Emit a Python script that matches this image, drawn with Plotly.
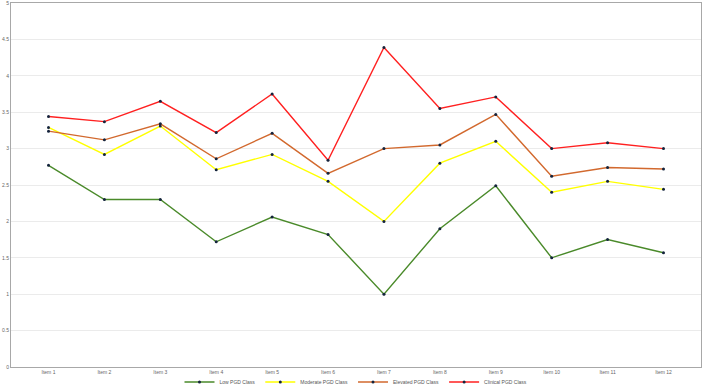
import plotly.graph_objects as go

categories = [f"Item {i}" for i in range(1, 13)]
low = [2.77, 2.30, 2.30, 1.72, 2.06, 1.82, 1.00, 1.90, 2.49, 1.50, 1.75, 1.57]
moderate = [3.29, 2.92, 3.31, 2.71, 2.92, 2.55, 2.00, 2.80, 3.10, 2.40, 2.55, 2.44]
elevated = [3.24, 3.12, 3.34, 2.86, 3.21, 2.66, 3.00, 3.05, 3.47, 2.62, 2.74, 2.72]
clinical = [3.44, 3.37, 3.65, 3.22, 3.75, 2.84, 4.39, 3.55, 3.71, 3.00, 3.08, 3.00]
y_ticks = [0, 0.5, 1, 1.5, 2, 2.5, 3, 3.5, 4, 4.5, 5]

series = [
    ("Low PGD Class", low, "#4a8a2a"),
    ("Moderate PGD Class", moderate, "#ffff00"),
    ("Elevated PGD Class", elevated, "#d2692e"),
    ("Clinical PGD Class", clinical, "#ff2020"),
]

fig = go.Figure()
for name, vals, color in series:
    fig.add_trace(go.Scatter(
        x=categories, y=vals, name=name, mode="lines+markers",
        line=dict(color=color, width=1.4),
        marker=dict(color="#14233c", size=3),
    ))

fig.update_layout(
    width=704, height=386,
    margin=dict(l=11, r=3, t=3, b=19, autoexpand=False),
    paper_bgcolor="white", plot_bgcolor="white",
    font=dict(family="Liberation Sans, Arial, sans-serif", size=5, color="#666"),
    showlegend=True,
    legend=dict(orientation="h", x=0.5, xanchor="center",
                yref="container", y=4 / 386, yanchor="middle",
                bgcolor="rgba(0,0,0,0)",
                font=dict(size=5, color="#555"), itemwidth=30, tracegroupgap=0),
)
fig.update_xaxes(
    type="category", showline=True, linecolor="#a8a8a8", linewidth=1, mirror=True,
    showgrid=False, ticks="", tickfont=dict(size=5, color="#666"), automargin=False,
    ticklabeloverflow="allow",
)
fig.update_yaxes(
    range=[0, 5], tickvals=y_ticks, ticktext=[f"{v:g}" for v in y_ticks],
    showline=True, linecolor="#a8a8a8", linewidth=1, mirror=True,
    showgrid=True, gridcolor="#ebebeb", gridwidth=1, zeroline=False,
    ticks="", tickfont=dict(size=5, color="#666"), automargin=False,
    ticklabeloverflow="allow",
)

fig.write_html("out.html")
